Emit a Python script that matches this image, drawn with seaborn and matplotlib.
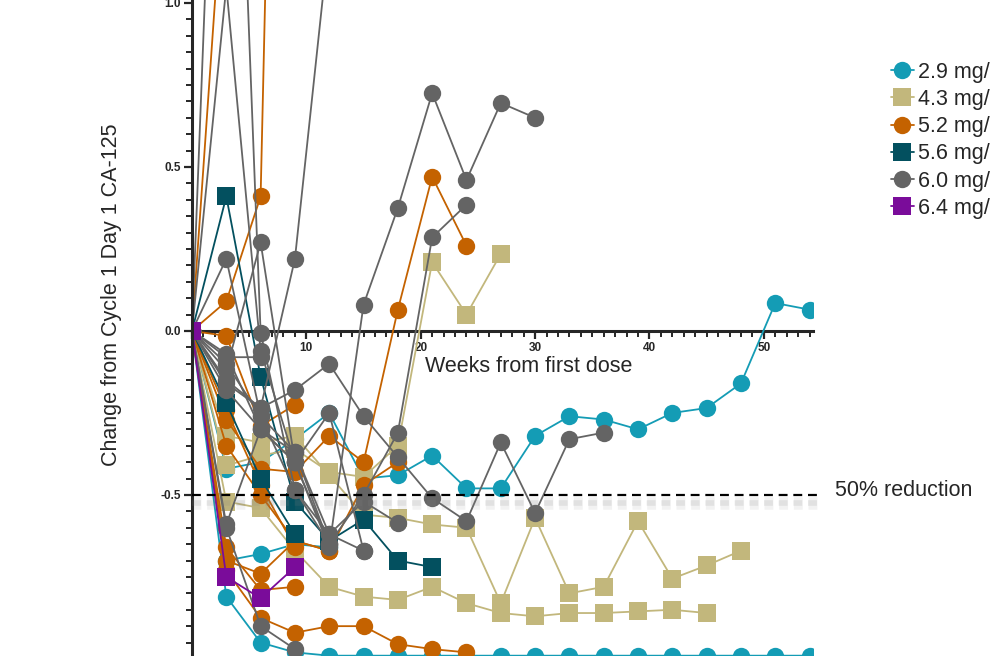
import matplotlib
matplotlib.use("Agg")
import matplotlib.pyplot as plt
import matplotlib.patheffects as pe
from matplotlib.lines import Line2D
from matplotlib.ticker import MultipleLocator, FuncFormatter
import pandas as pd
import seaborn as sns

sns.set_style("ticks")
plt.rcParams['font.family'] = ['Liberation Sans', 'DejaVu Sans']
plt.rcParams['axes.unicode_minus'] = False

# visit schedule (weeks from first dose)
weeks = [0, 3, 6, 9, 12, 15, 18, 21, 24, 27, 30, 33, 36, 39, 42, 45, 48, 51, 54]

# change from C1D1 CA-125, one list per patient
dose_29 = [
    [0, -0.81, -0.95, -0.98, -0.99, -0.99, -0.99, -0.99, -0.99, -0.99, -0.99,
     -0.99, -0.99, -0.99, -0.99, -0.99, -0.99, -0.99, -0.99],
    [0, -0.42, -0.40, -0.33, -0.25, -0.45, -0.44, -0.38, -0.48, -0.48, -0.32,
     -0.26, -0.27, -0.30, -0.25, -0.235, -0.16, 0.085, 0.065],
    [0, -0.70, -0.68, -0.65, -0.66],
]
dose_43 = [
    [0, -0.32, -0.34, -0.32, -0.44, -0.56, -0.57, -0.59, -0.60, -0.83, -0.57,
     -0.80, -0.78, -0.58, -0.755, -0.715, -0.67],
    [0, -0.52, -0.54, -0.67, -0.78, -0.81, -0.82, -0.78, -0.83, -0.86, -0.87,
     -0.86, -0.86, -0.855, -0.85, -0.86],
    [0, -0.41, -0.38, -0.36, -0.43, -0.445, -0.35, 0.21, 0.05, 0.235],
]
dose_52 = [
    [0, 1.5],
    [0, 0.09, 0.41, 5.0],
    [0, -0.27, -0.42, -0.43, -0.32, -0.40, 0.065, 0.47, 0.26],
    [0, -0.35, -0.50, -0.64, -0.67, -0.47, -0.40],
    [0, -0.73, -0.875, -0.92, -0.90, -0.90, -0.955, -0.97, -0.98],
    [0, -0.70, -0.74, -0.64, -0.67],
    [0, -0.66, -0.79, -0.78],
    [0, -0.015, -0.29, -0.225],
    [0, -0.24, -0.47, -0.66],
]
dose_56 = [
    [0, 0.41, -0.14, -0.52, -0.64, -0.575, -0.70, -0.72],
    [0, -0.22, -0.45, -0.62],
]
dose_60 = [
    [0, 2.7, -0.005, -0.485, -0.62, -0.52, -0.585],
    [0, 1.05, -0.06, -0.40, -0.25, -0.67],
    [0, -0.16, -0.235, 0.22, 1.2],
    [0, 0.22, -0.26, -0.37, -0.65],
    [0, -0.12, 0.27, -0.40, -0.65],
    [0, -0.07, -0.30, -0.37, -0.62, -0.67],
    [0, -0.18, -0.30, -0.40, -0.66, 0.08, 0.375, 0.725, 0.46, 0.695, 0.65],
    [0, -0.10, -0.26, -0.485, -0.65, -0.50, -0.31, 0.285, 0.385],
    [0, -0.15, -0.235, -0.18, -0.10, -0.26, -0.385, -0.51, -0.58, -0.34,
     -0.555, -0.33, -0.31],
    [0, -0.60, -0.90, -0.97],
    [0, -0.59, -0.30, -0.40],
    [0, -0.08, -0.08],
]
dose_64 = [
    [0, -0.75, -0.815, -0.72],
]

dose_labels = ['2.9 mg/', '4.3 mg/', '5.2 mg/', '5.6 mg/', '6.0 mg/', '6.4 mg/']
dose_groups = [dose_29, dose_43, dose_52, dose_56, dose_60, dose_64]

colors = ['#149CB5', '#C2B77C', '#C46200', '#03505F', '#646464', '#7A0C9A']
marker_shapes = ['o', 's', 'o', 's', 'o', 's']

# long-form table
rows = []
pid = 0
for label, group in zip(dose_labels, dose_groups):
    for pat in group:
        for w, v in zip(weeks, pat):
            rows.append({'week': w, 'value': v, 'dose': label, 'patient': pid})
        pid += 1
df = pd.DataFrame(rows)

palette = dict(zip(dose_labels, colors))
markers = dict(zip(dose_labels, marker_shapes))

fig = plt.figure(figsize=(9.95, 6.56), dpi=100)
ax = fig.add_axes([192 / 995, 0, 621 / 995, 1])

sns.lineplot(data=df, x='week', y='value', hue='dose', style='dose',
             units='patient', estimator=None, sort=False,
             hue_order=dose_labels, style_order=dose_labels,
             palette=palette, markers=markers, dashes=False,
             markersize=12.5, markeredgewidth=0, linewidth=1.3,
             legend=False, ax=ax)

ax.set_xlim(0, 54.3)
ax.set_ylim(-0.991, 1.009)

# axes through zero
ax.spines['top'].set_visible(False)
ax.spines['right'].set_visible(False)
ax.spines['bottom'].set_position(('data', 0))
ax.spines['left'].set_linewidth(2.2)
ax.spines['bottom'].set_linewidth(2.2)
ax.spines['bottom'].set_zorder(1)

ax.xaxis.set_major_locator(MultipleLocator(10))
ax.xaxis.set_minor_locator(MultipleLocator(1))
ax.yaxis.set_major_locator(MultipleLocator(0.5))
ax.yaxis.set_minor_locator(MultipleLocator(0.05))
ax.xaxis.set_major_formatter(FuncFormatter(lambda v, p: '' if v == 0 else f'{v:.0f}'))
ax.yaxis.set_major_formatter(FuncFormatter(lambda v, p: f'{v:.1f}'))

ax.tick_params(axis='both', which='major', length=6, width=1.6, labelsize=8.5, pad=2)
ax.tick_params(axis='both', which='minor', length=4, width=1.4)
for lab in ax.get_xticklabels() + ax.get_yticklabels():
    lab.set_fontweight('bold')

ax.set_xlabel('Weeks from first dose', fontsize=15.5)
ax.set_ylabel('Change from Cycle 1 Day 1 CA-125', fontsize=15.5)
ax.xaxis.set_label_coords((529 - 192) / 621, (656 - 356) / 656)
ax.yaxis.set_label_coords((122 - 192) / 621, (656 - 295) / 656)

# 50% reduction reference line with a soft shadow
ax.axhline(-0.5, xmin=0, xmax=1.008, color='black', linewidth=1.6,
           linestyle=(0, (4, 2.6)), clip_on=False, zorder=3,
           path_effects=[pe.SimpleLineShadow(offset=(0, -6), shadow_color='gray',
                                             alpha=0.10, linewidth=9),
                         pe.SimpleLineShadow(offset=(0, -6), shadow_color='gray',
                                             alpha=0.15, linewidth=4),
                         pe.Normal()])
ax.text(56.2, -0.485, '50% reduction', fontsize=15.5, va='center', ha='left',
        clip_on=False)

handles = [Line2D([], [], color=c, marker=m, markersize=12.5, markeredgewidth=0,
                  linewidth=1.3) for c, m in zip(colors, marker_shapes)]
fig.legend(handles, dose_labels, loc='upper left',
           bbox_to_anchor=(882 / 995, 1 - 53 / 656), frameon=False,
           fontsize=15.5, handlelength=1.1, handletextpad=0.15, labelspacing=0.29,
           borderaxespad=0)

fig.savefig('out.png', dpi=100)
